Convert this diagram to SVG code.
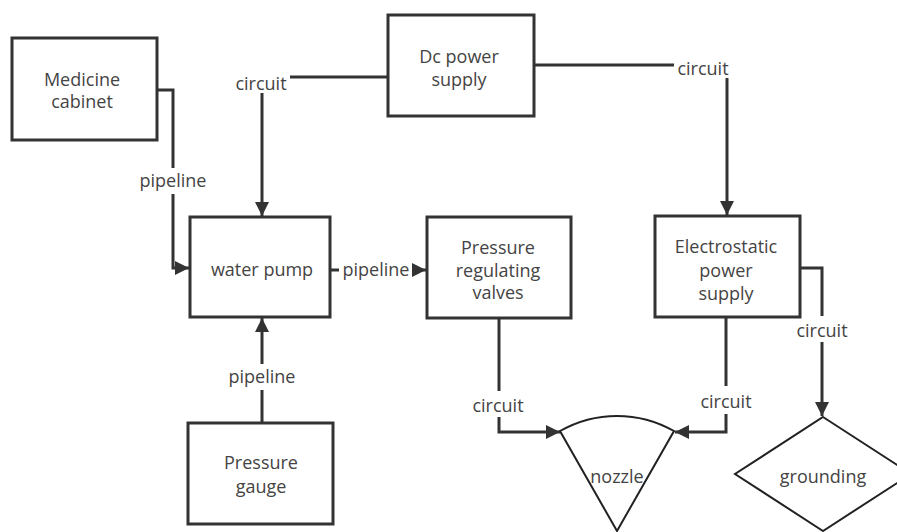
<svg xmlns="http://www.w3.org/2000/svg" width="897" height="532" viewBox="0 0 897 532">
<style>
.box{fill:#fff;stroke:#333;stroke-width:3}
.shape{fill:#fff;stroke:#222;stroke-width:2}
.t{font-family:"Open Sans","Noto Sans",sans-serif;font-size:18px;fill:#444;text-anchor:middle}
.c{fill:none;stroke:#333;stroke-width:3}
</style>
<defs>
<marker id="arr" markerUnits="userSpaceOnUse" markerWidth="16" markerHeight="16" refX="14" refY="8" orient="auto">
<path d="M0,1 L14,8 L0,15 Z" fill="#333"/>
</marker>
</defs>
<rect width="897" height="532" fill="#fff"/>
<g id="connectors">
<path class="c" d="M157,90 H173 V168"/>
<path class="c" d="M173,194 V268 H189" marker-end="url(#arr)"/>
<text class="t" x="173" y="187">pipeline</text>
<path class="c" d="M388,77 H290"/>
<path class="c" d="M262,93 V216" marker-end="url(#arr)"/>
<text class="t" x="261" y="90">circuit</text>
<path class="c" d="M534,65 H674"/>
<path class="c" d="M727,78 V215" marker-end="url(#arr)"/>
<text class="t" x="703" y="75">circuit</text>
<path class="c" d="M330,270 H339"/>
<path class="c" d="M413,270 H426" marker-end="url(#arr)"/>
<text class="t" x="376" y="276">pipeline</text>
<path class="c" d="M262,423 V390"/>
<path class="c" d="M262,364 V318" marker-end="url(#arr)"/>
<text class="t" x="262" y="383">pipeline</text>
<path class="c" d="M499,318 V391"/>
<path class="c" d="M499,417 V432 H560" marker-end="url(#arr)"/>
<text class="t" x="498" y="412">circuit</text>
<path class="c" d="M726,318 V386"/>
<path class="c" d="M726,414 V432 H675" marker-end="url(#arr)"/>
<text class="t" x="726" y="408">circuit</text>
<path class="c" d="M800,268 H822 V316"/>
<path class="c" d="M822,342 V416" marker-end="url(#arr)"/>
<text class="t" x="822" y="337">circuit</text>
</g>
<g id="medicine-cabinet">
<rect class="box" x="12" y="38" width="145" height="102"/>
<text class="t" x="82" y="86">Medicine</text>
<text class="t" x="82" y="108">cabinet</text>
</g>
<g id="dc-power-supply">
<rect class="box" x="388" y="15" width="146" height="101"/>
<text class="t" x="459" y="63">Dc power</text>
<text class="t" x="459" y="86">supply</text>
</g>
<g id="water-pump">
<rect class="box" x="190" y="217" width="140" height="100"/>
<text class="t" x="262" y="276">water pump</text>
</g>
<g id="pressure-regulating-valves">
<rect class="box" x="427" y="217" width="144" height="101"/>
<text class="t" x="498" y="254">Pressure</text>
<text class="t" x="498" y="277">regulating</text>
<text class="t" x="498" y="299">valves</text>
</g>
<g id="electrostatic-power-supply">
<rect class="box" x="655" y="216" width="145" height="101"/>
<text class="t" x="726" y="253">Electrostatic</text>
<text class="t" x="726" y="277">power</text>
<text class="t" x="726" y="300">supply</text>
</g>
<g id="pressure-gauge">
<rect class="box" x="188" y="423" width="145" height="101"/>
<text class="t" x="261" y="469">Pressure</text>
<text class="t" x="261" y="493">gauge</text>
</g>
<g id="nozzle">
<path class="shape" d="M617,531 L560,431 A115,115 0 0 1 674,431 Z"/>
<text class="t" x="617" y="483">nozzle</text>
</g>
<g id="grounding">
<path class="shape" d="M823,417 L911,474 L823,531 L735,474 Z"/>
<text class="t" x="823" y="483">grounding</text>
</g>
</svg>
